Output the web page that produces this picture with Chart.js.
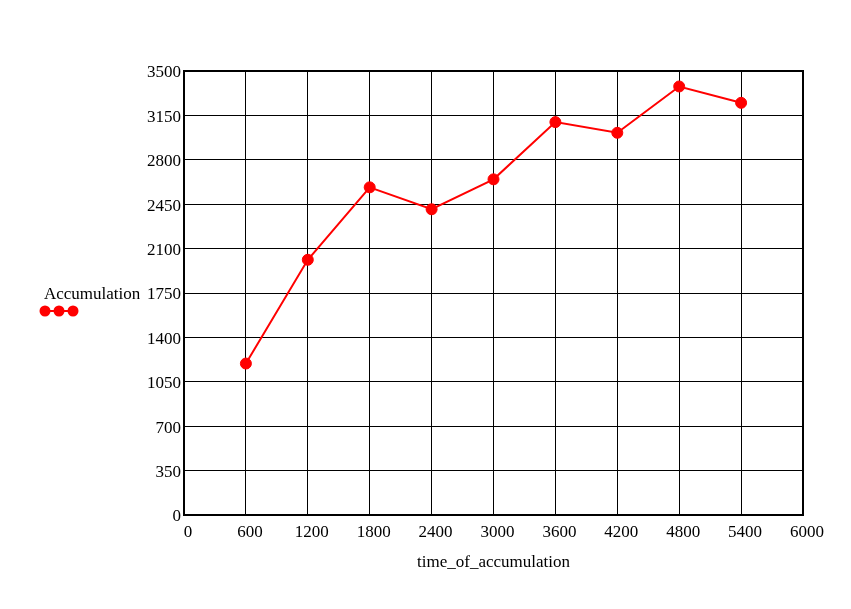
<!DOCTYPE html>
<html>
<head>
<meta charset="utf-8">
<script src="https://cdn.jsdelivr.net/npm/chart.js@4.4.1/dist/chart.umd.min.js"></script>
<style>
  html, body { margin: 0; padding: 0; background: #fff; }
  #wrap { width: 851px; height: 609px; }
</style>
</head>
<body>
<div id="wrap"><canvas id="accChart" width="851" height="609"></canvas></div>
<script>
// values
const timeOfAccumulation = [600, 1200, 1800, 2400, 3000, 3600, 4200, 4800, 5400];
const accumulation = [1194, 2012, 2583, 2410, 2646, 3097, 3013, 3378, 3249];
const xTickValues = [0, 600, 1200, 1800, 2400, 3000, 3600, 4200, 4800, 5400, 6000];
const yTickValues = [0, 350, 700, 1050, 1400, 1750, 2100, 2450, 2800, 3150, 3500];

const seriesName = 'Accumulation';
const xTitle = 'time_of_accumulation';
const red = '#ff0000';

Chart.defaults.font.family = '"Liberation Serif", "Times New Roman", serif';
Chart.defaults.font.size = 17;
Chart.defaults.color = '#000';

// frame round the plot + the little legend at the left
const framePlugin = {
  id: 'frame',
  afterDraw(chart) {
    const { ctx, chartArea: a } = chart;
    ctx.save();
    ctx.strokeStyle = '#000';
    ctx.lineWidth = 2;
    ctx.strokeRect(a.left, a.top, a.right - a.left, a.bottom - a.top);

    // legend: name and marker sample
    ctx.fillStyle = '#000';
    ctx.font = '17px "Liberation Serif", serif';
    ctx.textBaseline = 'middle';
    ctx.textAlign = 'left';
    ctx.fillText(seriesName, 44, 295);

    ctx.strokeStyle = red;
    ctx.lineWidth = 2;
    ctx.beginPath();
    ctx.moveTo(45, 311);
    ctx.lineTo(73, 311);
    ctx.stroke();
    ctx.fillStyle = red;
    [45, 59, 73].forEach(x => {
      ctx.beginPath();
      ctx.arc(x, 311, 5.5, 0, Math.PI * 2);
      ctx.fill();
    });
    ctx.restore();
  }
};

const plain = v => String(v);

const ctx = document.getElementById('accChart');
new Chart(ctx, {
  type: 'line',
  data: {
    datasets: [{
      label: seriesName,
      data: timeOfAccumulation.map((t, i) => ({ x: t, y: accumulation[i] })),
      borderColor: red,
      backgroundColor: red,
      borderWidth: 2,
      pointRadius: 5.5,
      pointBorderWidth: 1,
      pointBackgroundColor: red,
      pointBorderColor: red,
      tension: 0
    }]
  },
  options: {
    responsive: false,
    animation: false,
    layout: { padding: { left: 0, right: 48, top: 71, bottom: 0 } },
    plugins: {
      legend: { display: false },
      tooltip: { enabled: false }
    },
    scales: {
      x: {
        type: 'linear',
        min: 0,
        max: 6000,
        afterBuildTicks: scale => { scale.ticks = xTickValues.map(v => ({ value: v })); },
        afterFit: scale => { scale.height = 94; },
        grid: { color: '#000', lineWidth: 1, drawTicks: false },
        border: { display: false },
        ticks: { padding: 7, labelOffset: 4, maxRotation: 0, autoSkip: false, callback: plain },
        title: { display: true, text: xTitle, padding: { top: 0, bottom: 36 } }
      },
      y: {
        min: 0,
        max: 3500,
        afterBuildTicks: scale => { scale.ticks = yTickValues.map(v => ({ value: v })); },
        afterFit: scale => { scale.width = 184; },
        grid: { color: '#000', lineWidth: 1, drawTicks: false },
        border: { display: false },
        ticks: { padding: 3, labelOffset: 2, autoSkip: false, callback: plain }
      }
    }
  },
  plugins: [framePlugin]
});
</script>
</body>
</html>
